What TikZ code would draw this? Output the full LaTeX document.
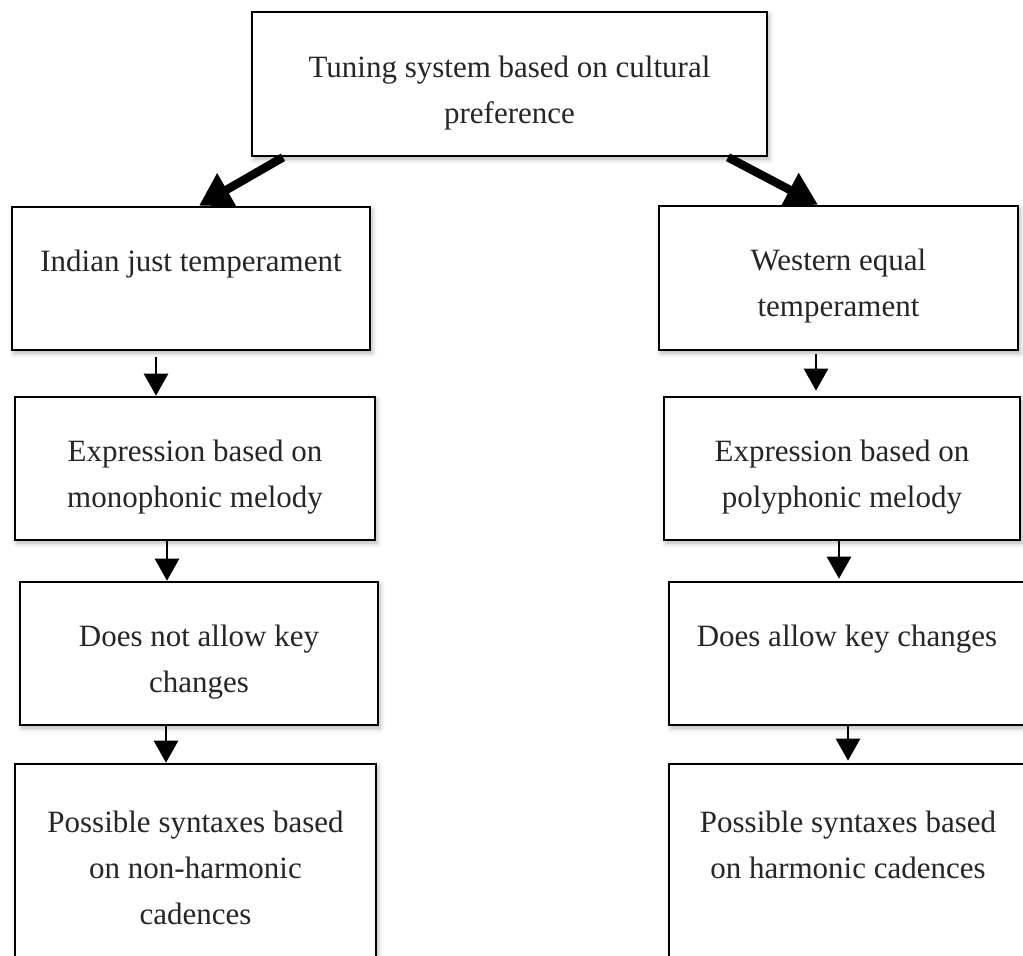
\documentclass[tikz,border=0pt]{standalone}
\usepackage{fontspec}
\setmainfont{Liberation Serif}
\usetikzlibrary{arrows.meta,shadows.blur}

\tikzset{
  box/.style={draw=black, line width=2.6pt, fill=white, rectangle,
    blur shadow={shadow xshift=2pt, shadow yshift=-3pt, shadow blur radius=5pt, shadow opacity=30}},
  label/.style={font=\fontsize{31}{46}\selectfont, align=center, text=black!85},
  thin arrow/.style={line width=2.6pt, -{Triangle[width=24pt,length=22pt]}},
  thick arrow/.style={line width=8.5pt, -{Triangle[width=36pt,length=32pt]}},
}

\begin{document}
\begin{tikzpicture}[x=1pt,y=-1pt]
  \useasboundingbox (0,0) rectangle (1023,956);
  \clip (0,0) rectangle (1023,956);

  % root box
  \node[box, minimum width=515pt, minimum height=144pt] (root) at (509.5,84) {};
  \node[label] (rootT) at (509.5,93) {Tuning system based on cultural\\preference};

  % left column: just temperament
  \node[box, minimum width=358pt, minimum height=143pt] (L1) at (191,278.5) {};
  \node[label] (L1T) at (191,264) {Indian just temperament};
  \node[box, minimum width=360pt, minimum height=143pt] (L2) at (195,468.5) {};
  \node[label] (L2T) at (195,477) {Expression based on\\monophonic melody};
  \node[box, minimum width=358pt, minimum height=143pt] (L3) at (199,653.5) {};
  \node[label] (L3T) at (199,662) {Does not allow key\\changes};
  \node[box, minimum width=361pt, minimum height=240pt] (L4) at (195.5,884) {};
  \node[label] (L4T) at (195.5,868) {Possible syntaxes based\\on non-harmonic\\cadences};

  % right column: equal temperament
  \node[box, minimum width=359pt, minimum height=144pt] (R1) at (838.5,278) {};
  \node[label] (R1T) at (838.5,286) {Western equal\\temperament};
  \node[box, minimum width=356pt, minimum height=143pt] (R2) at (842,468.5) {};
  \node[label] (R2T) at (842,477) {Expression based on\\polyphonic melody};
  \node[box, minimum width=370pt, minimum height=143pt] (R3) at (854,653.5) {};
  \node[label] (R3T) at (847,639) {Does allow key changes};
  \node[box, minimum width=370pt, minimum height=240pt] (R4) at (854,884) {};
  \node[label] (R4T) at (848,845) {Possible syntaxes based\\on harmonic cadences};

  % branches from the root
  \draw[thick arrow] (root.south west -| 283,0) -- (L1.north -| 199,0);
  \draw[thick arrow] (root.south -| 728,0) -- (R1.north -| 818,0);

  % left chain
  \draw[thin arrow, shorten <=6pt] (L1.south -| 156,0) -- (L2.north -| 156,0);
  \draw[thin arrow] (L2.south -| 167,0) -- (L3.north -| 167,0);
  \draw[thin arrow] (L3.south -| 166,0) -- (L4.north -| 166,0);

  % right chain
  \draw[thin arrow, shorten <=3pt, shorten >=5pt] (R1.south -| 816,0) -- (R2.north -| 816,0);
  \draw[thin arrow, shorten >=2pt] (R2.south -| 839,0) -- (R3.north -| 839,0);
  \draw[thin arrow, shorten >=2pt] (R3.south -| 848,0) -- (R4.north -| 848,0);
\end{tikzpicture}
\end{document}
